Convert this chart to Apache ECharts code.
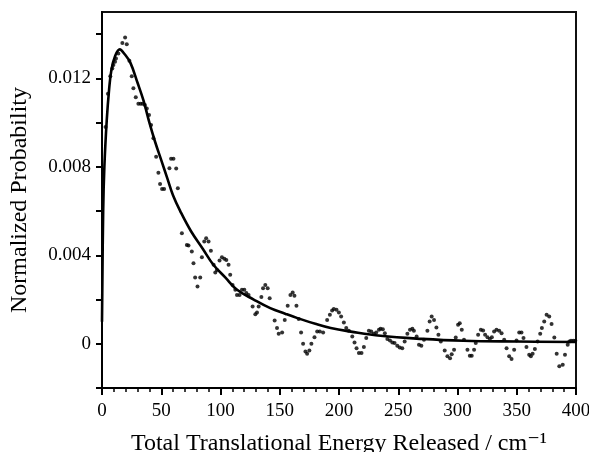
<!DOCTYPE html>
<html>
<head>
<meta charset="utf-8">
<script src="https://cdn.jsdelivr.net/npm/echarts/dist/echarts.min.js"></script>
<style>
  html, body { margin: 0; padding: 0; background: #fff; }
  #main { width: 589px; height: 452px; }
</style>
</head>
<body>
<div id="main"></div>
<script>
// measured points (dots)
var dotX = [3, 5, 7, 8.7, 9.6, 11, 11.8, 13.8, 17.2, 19.5, 20.9, 23.1, 25.1, 26.5, 28.5, 30.7, 32.6, 34.3, 36.2, 37.8,
  39.7, 41.4, 43.4, 45.7, 47.6, 49, 50.7, 52.4, 56.9, 58.3, 60.3, 62.6, 64, 67.4, 71.6, 73, 75.8, 77.2, 78.6, 80.6,
  82.9, 84.3, 86.3, 87.9, 89.9, 91.9, 94.2, 95.6, 97, 99.2, 101.2, 103.2, 104.9, 106.8, 108.2, 110.2, 112.5, 113.9, 116.1, 118.1,
  120.1, 121.8, 123.7, 127.1, 129.4, 130.8, 132.2, 134.5, 135.9, 137.8, 139.8, 141.5, 145.7, 147.7, 149.1, 152, 154.2, 156.7, 159, 160.9,
  162.4, 164.1, 166, 168, 169.7, 171.7, 173.1, 175, 176.7, 179.3, 181.6, 183.8, 186.6, 190, 192.3, 194.2, 195.6, 197.9, 199.9, 201.8,
  204.1, 206.1, 208.3, 211.2, 213.1, 214.8, 216.8, 219, 221, 223, 225.2, 227.2, 229.4, 231.4, 233.7, 235.1, 237, 238.7, 240.8, 243,
  245, 246.9, 249.2, 251.2, 253.4, 255.4, 257.7, 259.9, 261.9, 263.2, 265.5, 267.5, 269.5, 271.7, 274.6, 276.5, 278.2, 280.2, 282.2, 283.9,
  285.9, 289.2, 291.5, 293.7, 295.1, 297.1, 298.5, 300.5, 301.9, 303.6, 305.5, 308.4, 310.4, 312, 314, 315.4, 317.4, 319.7, 321.6, 323.3,
  325.3, 327.3, 329, 330.9, 332.9, 335.2, 337.2, 339.4, 341.4, 343.6, 345.6, 347.8, 349.8, 352.1, 354, 355.7, 358.2, 360.5, 361.9, 363.4,
  365.3, 367.6, 369.8, 371.2, 373.2, 375.2, 377.4, 379.4, 381.7, 383.7, 385.9, 388.8, 390.7, 393, 394.4, 395.8, 397.7, 399.4];
var dotY = [0.0098, 0.0113, 0.0121, 0.01245, 0.0126, 0.01275, 0.0129, 0.01312, 0.0136, 0.01385, 0.01354, 0.0128, 0.0121, 0.01155, 0.01114, 0.01085, 0.01085, 0.01085, 0.0108, 0.01064,
  0.01034, 0.00989, 0.00929, 0.00846, 0.00773, 0.00722, 0.0070, 0.0070, 0.00793, 0.00837, 0.00837, 0.00792, 0.00703, 0.0050, 0.00446, 0.00444, 0.00417, 0.00364, 0.0030, 0.00259,
  0.0030, 0.00391, 0.00462, 0.00477, 0.00462, 0.00421, 0.00357, 0.00322, 0.00334, 0.00376, 0.00391, 0.00384, 0.00379, 0.00357, 0.00312, 0.00266, 0.00244, 0.00221, 0.00221, 0.00244,
  0.00244, 0.00229, 0.00221, 0.00168, 0.00134, 0.00141, 0.00168, 0.00211, 0.00251, 0.00266, 0.00251, 0.00206, 0.00105, 0.00071, 0.00045, 0.00051, 0.00108, 0.00172, 0.00221, 0.00232,
  0.00217, 0.00172, 0.00112, 0.00051, 0.0, -0.00035, -0.00045, -0.0003, 0.0, 0.0003, 0.00056, 0.00056, 0.00051, 0.00108, 0.00131, 0.0015, 0.00157, 0.00154, 0.00141, 0.00123,
  0.00096, 0.00071, 0.00059, 0.00033, 0.00006, -0.0002, -0.00042, -0.00042, -0.00015, 0.00026, 0.00059, 0.00056, 0.00045, 0.00051, 0.00063, 0.00068, 0.00066, 0.00048, 0.00021, 0.00015,
  0.00006, 0.00003, -0.00009, -0.00017, -0.0002, 0.0001, 0.00045, 0.00063, 0.00068, 0.00059, 0.00033, -0.00005, -0.00009, 0.00018, 0.00059, 0.00101, 0.00123, 0.00108, 0.00074, 0.00041,
  0.0001, -0.0003, -0.00057, -0.00065, -0.00047, -0.00027, 0.00028, 0.00086, 0.00093, 0.00063, 0.00018, -0.00027, -0.00054, -0.00054, -0.00027, 0.00003, 0.00041, 0.00063, 0.0006, 0.00041,
  0.0003, 0.00021, 0.0003, 0.00056, 0.00063, 0.00059, 0.00048, 0.00018, -0.0002, -0.00057, -0.00069, -0.00027, 0.00015, 0.00051, 0.00051, 0.00026, -0.00015, -0.0005, -0.00057, -0.00045,
  -0.00024, 0.0001, 0.00045, 0.00071, 0.00101, 0.00131, 0.00123, 0.00089, 0.00028, -0.00045, -0.00102, -0.00095, -0.0005, -0.00005, 0.0001, 0.00014, 0.00014, 0.00014];

// fitted curve
var fitX = [0, 1, 2, 4, 6, 8, 11, 15, 19, 24, 30, 35, 40, 45, 50, 55, 60, 66, 75, 85,
  94, 104, 114, 128, 142, 155, 165, 180, 193, 210, 235, 270, 305, 350, 400];
var fitY = [0.0010, 0.0060, 0.0080, 0.0101, 0.0115, 0.0124, 0.0130, 0.01331, 0.0131, 0.0127, 0.0118, 0.0110, 0.0100, 0.0091, 0.0083, 0.0075, 0.0067, 0.0060, 0.0051, 0.0043,
  0.00357, 0.0030, 0.00244, 0.0020, 0.00161, 0.00135, 0.00116, 0.0009, 0.00071, 0.00055, 0.00036, 0.00022, 0.000135, 0.0001, 0.00008];

var yTicks = [-0.002, 0, 0.002, 0.004, 0.006, 0.008, 0.010, 0.012, 0.014];
var yLabels = [0, 0.004, 0.008, 0.012];

var serif = "'Liberation Serif', 'DejaVu Serif', serif";

var dots = dotX.map(function (x, i) { return [x, dotY[i]]; });
var fit = fitX.map(function (x, i) { return [x, fitY[i]]; });

var chart = echarts.init(document.getElementById('main'), null, { renderer: 'canvas' });
chart.setOption({
  animation: false,
  backgroundColor: '#fff',
  grid: {
    left: 102, right: 13, top: 12, bottom: 64,
    outerBoundsMode: 'none',
    containLabel: false,
    show: true, borderColor: '#111', borderWidth: 2, backgroundColor: 'transparent'
  },
  xAxis: {
    type: 'value',
    min: 0, max: 400, interval: 50,
    name: 'Total Translational Energy Released / cm\u207B\u00B9',
    nameLocation: 'middle',
    nameGap: 44,
    nameTextStyle: { fontFamily: serif, fontSize: 24, color: '#000' },
    axisLine: { show: true, onZero: false, lineStyle: { color: '#000', width: 2 } },
    axisTick: { show: true, inside: false, length: 7, lineStyle: { color: '#000', width: 2 } },
    minorTick: { show: true, splitNumber: 5, length: 4, lineStyle: { color: '#000', width: 1.5 } },
    splitLine: { show: false },
    axisLabel: { fontFamily: serif, fontSize: 19, color: '#000', margin: 14 }
  },
  yAxis: {
    type: 'value',
    min: -0.002, max: 0.015,
    name: 'Normalized Probability',
    nameLocation: 'middle',
    nameGap: 70,
    nameTextStyle: { fontFamily: serif, fontSize: 24, color: '#000' },
    axisLine: { show: true, onZero: false, lineStyle: { color: '#000', width: 2 } },
    axisTick: { show: true, inside: false, length: 6, customValues: yTicks, lineStyle: { color: '#000', width: 2 } },
    splitLine: { show: false },
    axisLabel: {
      fontFamily: serif, fontSize: 19, color: '#000', margin: 11,
      customValues: yLabels,
      formatter: function (v) { return v === 0 ? '0' : v.toFixed(3); }
    }
  },
  series: [
    {
      type: 'line',
      data: fit,
      smooth: 0.4,
      showSymbol: false,
      lineStyle: { color: '#000', width: 2.6 },
      z: 2
    },
    {
      type: 'scatter',
      data: dots,
      symbol: 'circle',
      symbolSize: 4,
      itemStyle: { color: '#000' },
      z: 3
    }
  ]
});
</script>
</body>
</html>
